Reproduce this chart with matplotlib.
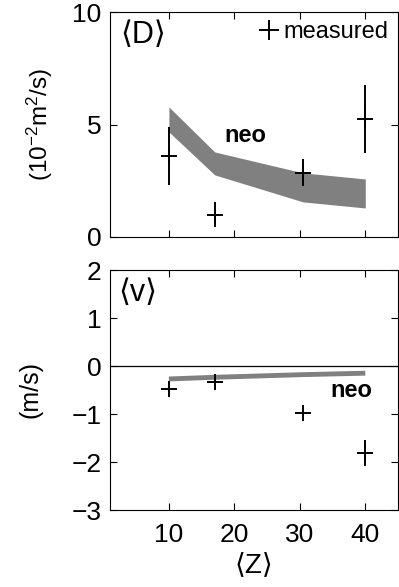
import matplotlib
matplotlib.use("Agg")
import matplotlib.pyplot as plt
from matplotlib.lines import Line2D

plt.rcParams['font.family'] = ['Liberation Sans', 'DejaVu Sans']
plt.rcParams['mathtext.fontset'] = 'custom'
plt.rcParams['mathtext.rm'] = 'Liberation Sans'
plt.rcParams['mathtext.it'] = 'Liberation Sans:italic'
plt.rcParams['axes.unicode_minus'] = True

# measured impurity transport vs charge
Z_meas = [10, 17, 30.5, 40]
D_meas = [3.6, 1.0, 2.85, 5.25]
D_err = [1.3, 0.55, 0.6, 1.5]
v_meas = [-0.48, -0.33, -0.97, -1.82]
v_err = [0.1, 0.1, 0.08, 0.27]

# neoclassical prediction
Z_neo = [10, 17, 30.5, 40]
D_neo_lo = [4.67, 2.76, 1.56, 1.29]
D_neo_hi = [5.78, 3.78, 2.85, 2.58]
v_neo = [-0.27, -0.235, -0.18, -0.15]

FS = 19
gray = "#808080"

fig = plt.figure(figsize=(3.99, 5.87), dpi=100)
ax1 = fig.add_axes([110/399, 350/587, 288/399, 225/587])
ax2 = fig.add_axes([110/399, 77/587, 288/399, 240/587])

# --- top: diffusion ---
ax1.fill_between(Z_neo, D_neo_lo, D_neo_hi, color=gray, lw=0)
ax1.errorbar(Z_meas, D_meas, yerr=D_err, fmt='+', color='k', ms=11,
             mew=1.4, elinewidth=1.4, capsize=0)
ax1.text(21.6, 4.5, "neo", fontsize=17, fontweight='bold', ha='center', va='center')
ax1.text(0.035, 0.965, "\u27e8D\u27e9", transform=ax1.transAxes, fontsize=22,
         ha='left', va='top')
h = Line2D([], [], color='k', marker='+', ls='none', ms=15, mew=1.4)
ax1.legend([h], ["measured"], loc='upper right', frameon=False, fontsize=17,
           handlelength=0.6, handletextpad=0.3, borderaxespad=0.2,
           borderpad=0.2)
ax1.set_xlim(1, 45)
ax1.set_ylim(0, 10)
ax1.set_yticks([0, 5, 10])
ax1.set_xticks([10, 20, 30, 40])
ax1.set_xticklabels([])
ax1.set_ylabel("(10$^{-2}$m$^2$/s)", fontsize=17.5)
ax1.yaxis.set_label_coords(-0.19, 0.5)

# --- bottom: convection ---
ax2.axhline(0, color='k', lw=0.9)
ax2.plot(Z_neo, v_neo, color=gray, lw=3.5, solid_capstyle='butt')
ax2.errorbar(Z_meas, v_meas, yerr=v_err, fmt='+', color='k', ms=11,
             mew=1.4, elinewidth=1.4, capsize=0)
ax2.text(37.9, -0.52, "neo", fontsize=17, fontweight='bold', ha='center', va='center')
ax2.text(0.03, 0.965, "\u27e8v\u27e9", transform=ax2.transAxes, fontsize=22,
         ha='left', va='top')
ax2.set_xlim(1, 45)
ax2.set_ylim(-3, 2)
ax2.set_yticks([-3, -2, -1, 0, 1, 2])
ax2.set_xticks([10, 20, 30, 40])
ax2.set_ylabel("(m/s)", fontsize=18)
ax2.yaxis.set_label_coords(-0.235, 0.5)
ax2.set_xlabel("\u27e8Z\u27e9", fontsize=20, labelpad=4)

for ax in (ax1, ax2):
    ax.tick_params(direction='in', length=5, width=0.8, labelsize=FS,
                   top=True, right=True)
    ax.tick_params(axis='x', pad=9)
    ax.tick_params(axis='y', pad=6)
    for s in ax.spines.values():
        s.set_linewidth(0.8)

fig.savefig("out.png", dpi=100)
